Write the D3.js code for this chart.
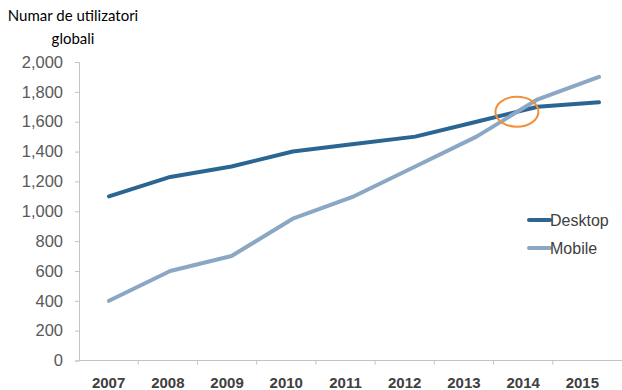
<!DOCTYPE html>
<html>
<head>
<meta charset="utf-8">
<script src="https://cdn.jsdelivr.net/npm/d3@7"></script>
<style>
  html, body { margin: 0; padding: 0; background: #fff; }
  svg { display: block; }
</style>
</head>
<body>
<svg id="chart" width="622" height="390"></svg>
<script>
// Global users (millions), desktop vs mobile
const years = ["2007", "2008", "2009", "2010", "2011", "2012", "2013", "2014", "2015"];
const desktop = [1100, 1230, 1300, 1400, 1450, 1500, 1600, 1700, 1730];
const mobile = [400, 600, 700, 950, 1100, 1300, 1500, 1750, 1900];
const yTicks = [0, 200, 400, 600, 800, 1000, 1200, 1400, 1600, 1800, 2000];
const seriesNames = ["Desktop", "Mobile"];
const seriesColors = ["#2b6592", "#8aa7c4"];

const svg = d3.select("#chart");
const plot = { left: 79, right: 612, top: 62, bottom: 360.5 };

// Category bands for the axis, and a point scale for the series
const x = d3.scaleBand().domain(years).range([plot.left, plot.right]);
const xLine = d3.scalePoint().domain(years).range([109, 599]);
const y = d3.scaleLinear().domain([0, 2000]).range([plot.bottom, plot.top]);

// Y axis
const yAxis = svg.append("g")
  .attr("transform", `translate(${plot.left},0)`)
  .call(d3.axisLeft(y).tickValues(yTicks).tickSize(4).tickPadding(12)
    .tickFormat(d3.format(",")));
yAxis.select(".domain").attr("stroke", "#c4c4c4").attr("stroke-width", 1);
yAxis.selectAll(".tick line").attr("stroke", "#c4c4c4");
yAxis.selectAll(".tick text")
  .attr("fill", "#595959")
  .style("font-family", "'Liberation Sans', Arial, sans-serif")
  .style("font-size", "16.5px");

// X axis: ticks at band boundaries
const xAxisG = svg.append("g").attr("transform", `translate(0,${plot.bottom})`);
xAxisG.append("line")
  .attr("x1", plot.left).attr("x2", 622)
  .attr("stroke", "#c4c4c4");
xAxisG.selectAll("line.tk")
  .data(years.slice(1))
  .join("line")
  .attr("class", "tk")
  .attr("x1", d => x(d)).attr("x2", d => x(d))
  .attr("y1", 0).attr("y2", 4)
  .attr("stroke", "#c4c4c4");
xAxisG.selectAll("text")
  .data(years)
  .join("text")
  .attr("x", d => x(d) + x.bandwidth() / 2)
  .attr("y", 27.5)
  .attr("text-anchor", "middle")
  .attr("fill", "#404040")
  .style("font-family", "'Liberation Sans Narrow', 'Arial Narrow', sans-serif")
  .style("font-weight", "bold")
  .style("font-size", "15px")
  .text(d => d);

// Lines
const line = d3.line()
  .x((d, i) => xLine(years[i]))
  .y(d => y(d));

[desktop, mobile].forEach((vals, k) => {
  svg.append("path")
    .datum(vals)
    .attr("fill", "none")
    .attr("stroke", seriesColors[k])
    .attr("stroke-width", 4)
    .attr("stroke-linejoin", "round")
    .attr("stroke-linecap", "round")
    .attr("d", line);
});

// Highlight around the crossover point
svg.append("ellipse")
  .attr("cx", xLine("2013") + xLine.step() * 0.66)
  .attr("cy", y(1667))
  .attr("rx", 21.5)
  .attr("ry", 15)
  .attr("fill", "none")
  .attr("stroke", "#f0913a")
  .attr("stroke-width", 2);

// Legend
const legend = svg.append("g").attr("transform", "translate(529,220)");
seriesNames.forEach((name, k) => {
  const g = legend.append("g").attr("transform", `translate(0,${k * 28})`);
  g.append("line")
    .attr("x1", 0).attr("x2", 21)
    .attr("stroke", seriesColors[k])
    .attr("stroke-width", 4)
    .attr("stroke-linecap", "round");
  g.append("text")
    .attr("x", 21).attr("y", 6)
    .attr("fill", "#404040")
    .style("font-family", "'Liberation Sans', Arial, sans-serif")
    .style("font-size", "16px")
    .text(name);
});

// Axis title
const title = svg.append("text")
  .attr("fill", "#000")
  .attr("text-anchor", "middle")
  .style("font-family", "Lato, 'Open Sans', sans-serif")
  .style("font-size", "15px");
title.append("tspan").attr("x", 73).attr("y", 21).text("Numar de utilizatori");
title.append("tspan").attr("x", 73).attr("y", 44).text("globali");
</script>
</body>
</html>
